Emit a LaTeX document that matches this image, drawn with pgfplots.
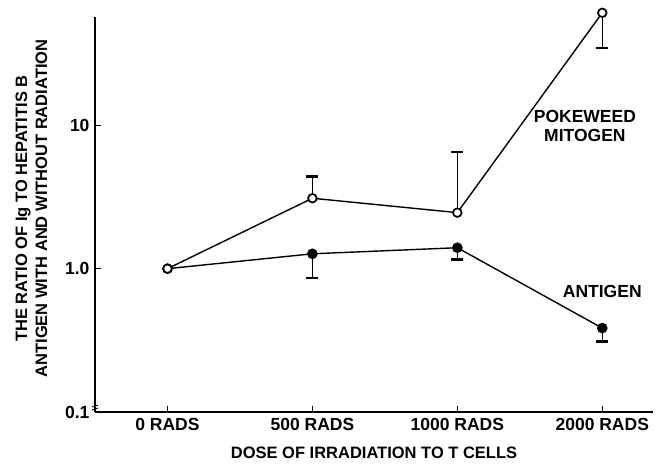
\documentclass[border=0pt]{standalone}
\usepackage{pgfplots}
\pgfplotsset{compat=1.18}
\usepackage{fontspec}
\setmainfont{Liberation Sans}
\begin{document}
\begin{tikzpicture}
\begin{axis}[
  name=ax,
  scale only axis,
  width=558pt, height=395pt,
  axis lines*=left,
  axis line style={line width=1.4pt},
  ymode=log, ymin=0.1, ymax=57,
  xmin=-0.5, xmax=3.35,
  xtick={0,1,2,3},
  xticklabels={0 RADS,500 RADS,1000 RADS,2000 RADS},
  ytick={0.1,1,10}, yticklabels={0.1,1.0,10},
  yminorticks=false,
  tick style={line width=1.2pt, black},
  major tick length=6pt,
  tick align=inside,
  ticklabel style={font=\fontsize{17.5}{19}\selectfont\bfseries},
  xticklabel style={yshift=-3pt},
  yticklabel style={xshift=-2pt},
  xlabel={DOSE OF IRRADIATION TO T CELLS},
  xlabel style={font=\fontsize{16.5}{18}\selectfont\bfseries, yshift=-9pt},
  clip=false,
  error bars/error mark=-,
  error bars/error bar style={line width=1.4pt, black, solid},
  error bars/error mark options={rotate=90, line width=2.4pt, mark size=6pt, black, solid},
]
% error bars (drawn first)
\addplot[forget plot, black, only marks, mark=none,
  error bars/.cd, y dir=minus, y explicit]
  coordinates {(1,1.27) +- (0,0.405) (2,1.40) +- (0,0.24) (3,0.385) +- (0,0.075) (3,61) +- (0,26.5)};
\addplot[forget plot, black, only marks, mark=none,
  error bars/.cd, y dir=plus, y explicit]
  coordinates {(1,3.1) +- (0,1.3) (2,2.46) +- (0,4.04)};
% Antigen
\addplot[black, line width=1.4pt, mark=*, mark size=4.6pt]
  coordinates {(0,1.0) (1,1.27) (2,1.40) (3,0.385)};
% Pokeweed mitogen
\addplot[black, line width=1.4pt, mark=*, mark size=4.3pt,
  mark options={fill=white, line width=1.7pt}]
  coordinates {(0,1.0) (1,3.1) (2,2.46) (3,61)};
\node[align=center, font=\fontsize{17.5}{19}\selectfont\bfseries] at (axis cs:2.88,9.84) {POKEWEED\\MITOGEN};
\node[font=\fontsize{17.5}{19}\selectfont\bfseries] at (axis cs:3.0,0.69) {ANTIGEN};
\end{axis}
\node[rotate=90, align=center, font=\fontsize{16.5}{20}\selectfont\bfseries]
  at ([xshift=-63.5pt,yshift=6pt]ax.west) {THE RATIO OF Ig TO HEPATITIS B\\ANTIGEN WITH AND WITHOUT RADIATION};
\draw[line width=0.8pt] ([xshift=-3pt,yshift=2pt]ax.south west) -- ++(6pt,2pt);
\draw[line width=0.8pt] ([xshift=-3pt,yshift=5pt]ax.south west) -- ++(6pt,2pt);
\pgfresetboundingbox
\path ([xshift=-95pt,yshift=-62pt]ax.south west) rectangle ([xshift=5pt,yshift=17pt]ax.north east);
\end{tikzpicture}
\end{document}
